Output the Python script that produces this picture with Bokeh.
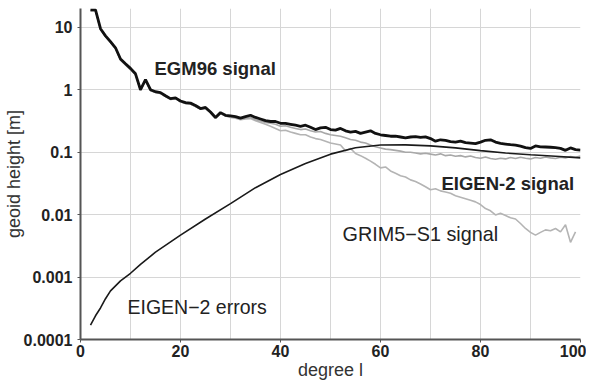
from bokeh.plotting import figure
from bokeh.models import FixedTicker, CustomJSTickFormatter, Label, Range1d
from bokeh.embed import file_html
from bokeh.resources import INLINE

degrees = list(range(2, 101))

egm96_signal = [
    19, 19, 9.5, 7.3, 5.9, 4.7, 3.1, 2.6, 2.2, 1.8,
    1.0, 1.45, 1.0, 0.93, 0.9, 0.8, 0.72, 0.74, 0.66, 0.62,
    0.61, 0.56, 0.5, 0.52, 0.44, 0.36, 0.43, 0.39, 0.38, 0.37,
    0.35, 0.37, 0.39, 0.36, 0.34, 0.32, 0.31, 0.31, 0.29, 0.29,
    0.28, 0.27, 0.26, 0.27, 0.25, 0.23, 0.245, 0.25, 0.23, 0.225,
    0.24, 0.22, 0.21, 0.215, 0.2, 0.21, 0.22, 0.2, 0.19, 0.185,
    0.18, 0.18, 0.175, 0.17, 0.175, 0.178, 0.172, 0.176, 0.165, 0.15,
    0.158, 0.155, 0.148, 0.145, 0.15, 0.142, 0.14, 0.137, 0.145, 0.155,
    0.158, 0.145, 0.138, 0.135, 0.132, 0.13, 0.125, 0.118, 0.115, 0.126,
    0.122, 0.121, 0.12, 0.118, 0.115, 0.107, 0.117, 0.11, 0.108,
]

eigen2_signal = [
    18.5, 18.5, 9.3, 7.1, 5.7, 4.6, 3.0, 2.5, 2.1, 1.75,
    0.98, 1.4, 0.97, 0.9, 0.87, 0.78, 0.7, 0.72, 0.64, 0.6,
    0.59, 0.54, 0.49, 0.5, 0.43, 0.35, 0.42, 0.38, 0.37, 0.36,
    0.34, 0.35, 0.36, 0.33, 0.315, 0.3, 0.29, 0.28, 0.26, 0.265,
    0.25, 0.24, 0.23, 0.235, 0.22, 0.21, 0.215, 0.2, 0.19, 0.185,
    0.18, 0.17, 0.16, 0.155, 0.145, 0.14, 0.13, 0.122, 0.117, 0.112,
    0.11, 0.107, 0.104, 0.1, 0.1, 0.097, 0.094, 0.096, 0.093, 0.09,
    0.094, 0.088, 0.09, 0.086, 0.088, 0.084, 0.087, 0.082, 0.08, 0.084,
    0.079, 0.077, 0.08, 0.078, 0.082, 0.079, 0.083, 0.08, 0.078, 0.082,
    0.08, 0.084, 0.081, 0.079, 0.083, 0.081, 0.085, 0.083, 0.087,
]

grim5_degrees = list(range(2, 100))
grim5_signal = [
    18.5, 18.5, 9.3, 7.1, 5.7, 4.6, 3.0, 2.5, 2.1, 1.75,
    0.98, 1.4, 0.97, 0.9, 0.87, 0.78, 0.7, 0.72, 0.64, 0.6,
    0.59, 0.54, 0.49, 0.5, 0.43, 0.35, 0.42, 0.38, 0.36, 0.35,
    0.33, 0.34, 0.345, 0.32, 0.3, 0.28, 0.26, 0.24, 0.22, 0.225,
    0.21, 0.2, 0.19, 0.19, 0.175, 0.165, 0.16, 0.15, 0.14, 0.135,
    0.13, 0.105, 0.115, 0.095, 0.088, 0.08, 0.072, 0.064, 0.056, 0.058,
    0.05, 0.046, 0.042, 0.04, 0.036, 0.034, 0.031, 0.028, 0.025, 0.026,
    0.024, 0.023, 0.022, 0.02, 0.019, 0.018, 0.017, 0.016, 0.0145, 0.0125,
    0.0115, 0.0099, 0.0105, 0.0097, 0.0089, 0.0085, 0.0072, 0.006, 0.0052, 0.0047,
    0.0052, 0.0057, 0.0055, 0.006, 0.0053, 0.0069, 0.0036, 0.0053,
]

error_degrees = [2, 3, 4, 5, 6, 8, 10, 12, 15, 20, 25, 30, 35, 40, 45, 50,
                 55, 60, 65, 70, 75, 80, 85, 90, 95, 100]
eigen2_errors = [0.00017, 0.00024, 0.00032, 0.00045, 0.0006, 0.00087, 0.00115,
                 0.0016, 0.0025, 0.0047, 0.0085, 0.015, 0.027, 0.044, 0.066,
                 0.093, 0.118, 0.13, 0.131, 0.126, 0.117, 0.106, 0.097, 0.091,
                 0.086, 0.081]

x_ticks = [0, 20, 40, 60, 80, 100]
x_grid = [0, 10, 20, 30, 40, 50, 60, 70, 80, 90, 100]
y_ticks = [1e-4, 1e-3, 1e-2, 1e-1, 1, 10]

FONT = "Liberation Sans"
AXIS_COLOR = "#555555"

p = figure(frame_width=500, frame_height=331, y_axis_type="log",
           x_range=Range1d(0, 100), y_range=Range1d(1e-4, 20),
           output_backend="svg", toolbar_location=None,
           min_border_left=0, min_border_right=6, min_border_top=8,
           min_border_bottom=0)
p.outline_line_color = None
p.background_fill_color = "white"

p.line(grim5_degrees, grim5_signal, line_color="#b4b4b4", line_width=1.6)
p.line(degrees, eigen2_signal, line_color="#a8a8a8", line_width=1.6)
p.line(error_degrees, eigen2_errors, line_color="#1a1a1a", line_width=1.6)
p.line(degrees, egm96_signal, line_color="#111111", line_width=2.8)

p.xaxis.ticker = FixedTicker(ticks=x_ticks)
p.xgrid.ticker = FixedTicker(ticks=x_grid)
p.yaxis.ticker = FixedTicker(ticks=y_ticks)
p.ygrid.ticker = FixedTicker(ticks=y_ticks)
p.yaxis.formatter = CustomJSTickFormatter(code="""
const e = Math.round(Math.log10(tick));
return e >= 0 ? String(Math.pow(10, e)) : tick.toFixed(-e);
""")

for g in (p.xgrid, p.ygrid):
    g.grid_line_color = "#d6d6d6"
    g.grid_line_width = 1

for ax in (p.xaxis, p.yaxis):
    ax.axis_line_color = AXIS_COLOR
    ax.axis_line_width = 2
    ax.major_tick_line_color = AXIS_COLOR
    ax.major_tick_in = 0
    ax.major_tick_out = 3
    ax.minor_tick_line_color = None
    ax.major_label_text_font = FONT
    ax.major_label_text_font_style = "bold"
    ax.major_label_text_font_size = "16px"
    ax.major_label_text_color = "#222222"
    ax.axis_label_text_font = FONT
    ax.axis_label_text_font_style = "normal"
    ax.axis_label_text_font_size = "18px"
    ax.axis_label_text_color = "#333333"

p.xaxis.axis_label = "degree l"
p.yaxis.axis_label = "geoid height [m]"
p.xaxis.major_label_standoff = 2
p.xaxis.axis_label_standoff = 0
p.yaxis.major_label_standoff = 5
p.yaxis.axis_label_standoff = -3

labels = [
    ("EGM96 signal", 14.8, 2.19, "bold", "18.5px"),
    ("EIGEN-2 signal", 72.2, 0.0316, "bold", "18.5px"),
    ("GRIM5\u2212S1 signal", 52.4, 0.0049, "normal", "19.8px"),
    ("EIGEN\u22122 errors", 9.4, 0.00033, "normal", "19.5px"),
]
for txt, lx, ly, style, size in labels:
    p.add_layout(Label(x=lx, y=ly, text=txt, text_font=FONT,
                       text_font_style=style, text_font_size=size,
                       text_color="#222222", text_baseline="alphabetic"))

open("out.html", "w").write(file_html(p, INLINE))
